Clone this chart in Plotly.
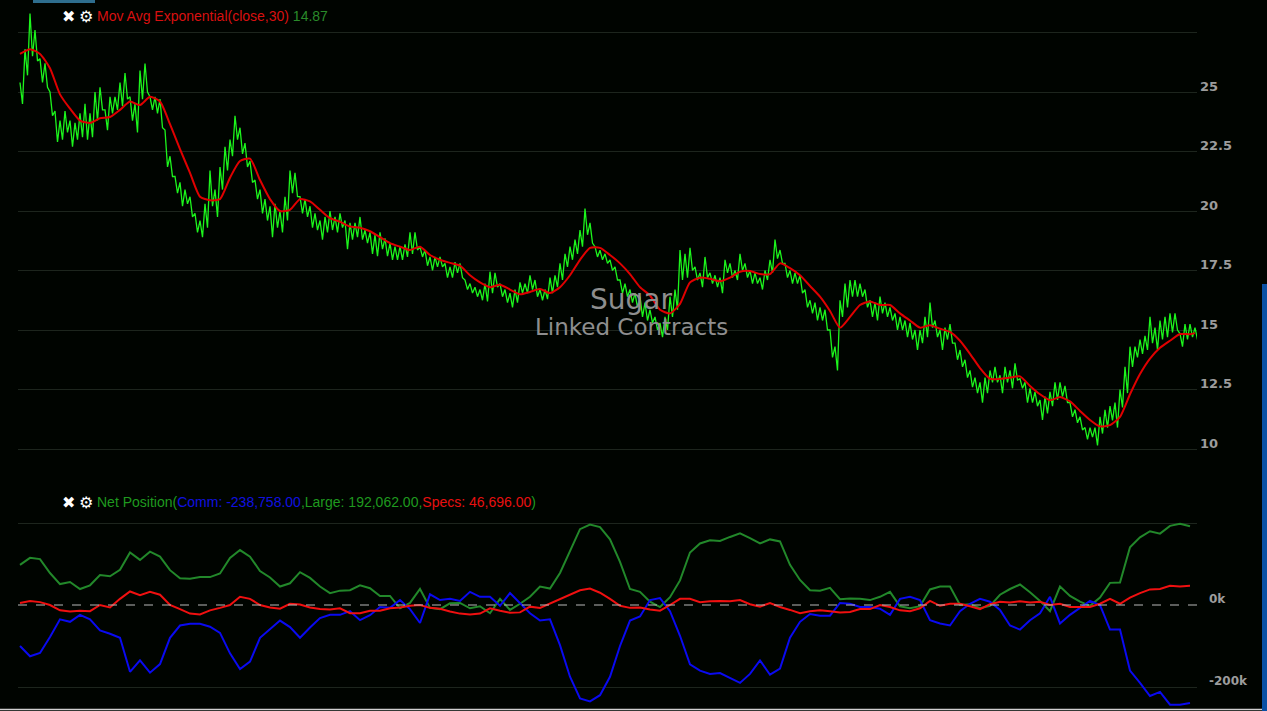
import plotly.graph_objects as go

# ---------------- data ----------------
# Sugar price: high / low envelope, one sample every ~5 px of chart width
price_high = [
    25.4, 26.8, 28.3, 27.6, 26.4, 26.2, 25.0, 24.2, 23.8, 24.2, 23.8, 23.7, 24.1, 24.5, 24.1, 25.0, 25.2, 24.25, 24.8, 24.8,
    25.4, 25.8, 24.8, 24.5, 25.9, 26.2, 24.8, 24.8, 24.7, 23.4, 22.3, 21.45, 21.2, 20.9, 20.6, 19.9, 19.6, 20.3, 21.7, 20.9,
    21.85, 22.7, 23.0, 24.0, 23.5, 22.85, 22.1, 21.3, 20.9, 20.5, 20.2, 20.3, 20.0, 20.6, 21.7, 21.6, 20.6, 20.5, 20.2, 19.9,
    19.6, 19.75, 20.0, 19.75, 19.9, 19.6, 19.5, 19.5, 19.75, 19.2, 19.1, 19.0, 19.1, 18.85, 18.65, 18.5, 18.5, 18.6, 19.1, 19.1,
    18.5, 18.36, 18.07, 18.07, 18.07, 17.8, 17.65, 17.85, 17.8, 17.1, 16.95, 16.8, 16.7, 16.95, 17.45, 17.4, 16.95, 16.7, 16.55, 16.7,
    17.0, 16.95, 17.3, 17.1, 16.7, 16.7, 17.2, 17.3, 17.8, 18.2, 18.5, 18.8, 19.2, 20.1, 19.5, 18.5, 18.35, 18.2, 17.95, 17.65,
    17.1, 16.95, 16.7, 16.55, 16.4, 16.15, 15.85, 15.55, 15.3, 15.55, 16.4, 16.7, 18.36, 18.2, 18.45, 17.65, 17.4, 18.07, 17.4, 17.3,
    17.2, 17.95, 17.8, 17.5, 18.2, 17.8, 17.5, 17.4, 17.2, 17.5, 17.95, 18.8, 18.36, 17.8, 17.5, 17.4, 17.3, 16.7, 16.25, 16.15,
    15.95, 15.85, 15.0, 14.3, 16.25, 16.95, 17.1, 17.1, 16.95, 16.7, 16.25, 16.15, 16.4, 16.15, 15.95, 15.7, 15.55, 15.4, 15.3, 15.0,
    15.0, 15.55, 16.15, 15.4, 15.0, 15.1, 15.25, 14.45, 14.16, 13.75, 13.3, 13.0, 12.8, 13.0, 13.3, 13.45, 13.1, 13.45, 13.3, 13.6,
    12.95, 12.8, 12.55, 12.4, 12.06, 12.2, 12.4, 12.8, 12.8, 12.65, 11.95, 11.65, 11.35, 10.9, 10.9, 10.9, 11.35, 11.65, 11.8, 11.95,
    12.5, 13.45, 14.3, 14.3, 14.6, 14.75, 15.55, 15.1, 15.4, 15.55, 15.7, 15.7, 14.85, 15.25, 15.25, 15.1,
]
price_low = [
    24.5, 25.7, 26.5, 26.3, 25.4, 25.2, 24.0, 22.9, 23.0, 23.3, 22.7, 23.0, 23.1, 23.0, 23.1, 23.8, 24.25, 23.4, 24.1, 24.25,
    24.4, 24.7, 23.8, 23.3, 24.7, 25.0, 24.25, 24.1, 23.5, 21.85, 21.45, 20.75, 20.2, 20.3, 19.75, 19.1, 18.9, 19.3, 20.2, 19.75,
    20.9, 21.7, 22.3, 23.0, 22.4, 21.85, 21.2, 20.5, 19.9, 19.6, 18.9, 19.3, 19.1, 19.6, 20.75, 20.6, 19.9, 19.75, 19.3, 19.2,
    18.8, 19.1, 19.2, 19.1, 19.3, 18.4, 18.8, 18.9, 18.8, 18.65, 18.2, 18.1, 18.4, 18.1, 17.95, 17.95, 17.95, 18.07, 18.2, 18.36,
    18.07, 17.7, 17.5, 17.65, 17.65, 17.2, 17.2, 17.4, 17.2, 16.7, 16.55, 16.4, 16.25, 16.2, 16.55, 16.8, 16.4, 16.15, 15.95, 16.15,
    16.55, 16.55, 16.7, 16.4, 16.25, 16.3, 16.55, 16.8, 17.1, 17.65, 17.95, 18.2, 18.5, 19.0, 18.65, 18.07, 17.95, 17.8, 17.5, 17.1,
    16.55, 16.4, 16.15, 15.95, 15.55, 15.4, 15.3, 15.0, 14.7, 15.0, 15.55, 15.85, 17.1, 17.2, 17.5, 17.1, 16.8, 17.2, 16.95, 16.8,
    16.55, 17.4, 17.2, 17.1, 17.5, 17.2, 16.95, 16.95, 16.7, 17.1, 17.4, 18.0, 17.8, 17.2, 16.95, 16.95, 16.55, 15.95, 15.7, 15.4,
    15.4, 15.0, 13.85, 13.3, 15.55, 15.95, 16.4, 16.4, 16.4, 15.95, 15.55, 15.4, 15.7, 15.55, 15.4, 15.0, 15.0, 14.7, 14.6, 14.16,
    14.45, 14.7, 15.1, 14.7, 14.16, 14.6, 14.45, 13.75, 13.45, 13.0, 12.6, 12.35, 11.95, 12.35, 12.8, 12.8, 12.35, 12.8, 12.55, 12.9,
    12.55, 11.95, 11.95, 11.8, 11.22, 11.5, 11.8, 12.06, 12.2, 11.95, 11.35, 11.1, 10.8, 10.4, 10.5, 10.15, 10.65, 10.9, 11.2, 10.9,
    11.75, 12.35, 13.45, 13.85, 14.0, 14.16, 14.45, 14.16, 14.6, 14.7, 14.9, 15.0, 14.3, 14.6, 14.7, 14.6,
]
# Exponential moving average (30), one value every ~10 px, plus the last bar
ema30 = [
    26.6, 26.8, 26.6, 26.0, 24.9, 24.3, 23.8, 23.7, 23.9, 23.95,
    24.25, 24.6, 24.45, 24.8, 24.6, 23.65, 22.6, 21.6, 20.6, 20.45,
    20.5, 21.4, 22.1, 22.2, 21.3, 20.5, 20.0, 20.05, 20.5, 20.4,
    20.05, 19.7, 19.55, 19.35, 19.3, 19.15, 18.9, 18.65, 18.5, 18.36,
    18.5, 18.15, 17.95, 17.82, 17.7, 17.3, 17.0, 16.8, 16.9, 16.7,
    16.5, 16.6, 16.72, 16.55, 16.8, 17.3, 17.95, 18.45, 18.45, 18.15,
    17.8, 17.35, 16.8, 16.45, 15.85, 15.7, 16.1, 17.0, 17.2, 17.15,
    17.05, 17.2, 17.45, 17.48, 17.35, 17.35, 17.8, 17.6, 17.3, 16.85,
    16.4, 15.8, 15.1, 15.55, 16.05, 16.2, 16.05, 16.05, 15.7, 15.4,
    15.1, 15.2, 15.05, 14.92, 14.55, 14.0, 13.4, 12.95, 12.95, 13.0,
    13.05, 12.65, 12.3, 12.05, 12.18, 12.0, 11.6, 11.22, 10.95, 11.0,
    11.35, 12.3, 13.15, 13.8, 14.25, 14.55, 14.83, 14.82,
    14.87,
]
# COT net positions, thousands of contracts, one value every ~10 px
large = [
    98, 115, 112, 78, 51, 56, 39, 48, 73, 70,
    86, 128, 110, 130, 118, 85, 65, 64, 68, 68,
    77, 115, 134, 118, 83, 67, 45, 53, 80, 66,
    45, 29, 35, 36, 48, 41, 22, 22, -8, 5,
    39, -7, -10, 4, 5, -8, -3, -20, 15, -12,
    3, 20, 45, 40, 78, 130, 185, 196, 190, 160,
    105, 39, 32, 8, -5, 19, 60, 128, 150, 158,
    156, 166, 175, 163, 150, 160, 155, 98, 61, 36,
    35, 42, 14, 16, 15, 12, 20, 32, -3, -8,
    -3, 38, 45, 45, 0, 2, -8, -2, 25, 39,
    50, 31, 10, -15, 45, 22, 8, -2, 18, 54,
    55, 141, 165, 180, 174, 193, 198, 192.062,
]
specs = [
    5, 10, 7, 0, -13, -16, -14, -15, 0, -6,
    15, 33, 24, 32, 25, 0, -10, -21, -23, -13,
    -7, 0, 20, 15, 0, -6, -9, 3, 1, -6,
    -10, -11, -8, -20, -20, -14, -14, -8, -6, -2,
    0, -7, -9, -16, -21, -23, -21, -8, -14, -19,
    -18, -4, -7, 4, 16, 26, 36, 40, 30, 15,
    -2, -7, -6, -11, -14, 0, 15, 15, 7, 9,
    10, 9, 12, 2, -4, 5, -5, -12, -20, -15,
    -13, -15, -18, -17, -10, -10, 0, -5, -13, -15,
    -8, 10, -2, 3, 3, -3, -10, 2, 8, 6,
    9, 6, 8, 0, 3, -5, -5, -5, 3, 15,
    3, 18, 29, 38, 39, 47, 45, 46.696,
]
comm = [
    -100, -125, -117, -78, -35, -41, -24, -35, -62, -70,
    -80, -163, -135, -165, -144, -80, -50, -46, -46, -53,
    -68, -118, -156, -138, -80, -60, -38, -54, -80, -55,
    -32, -24, -24, -15, -37, -25, -5, -7, 12, -10,
    -44, 26, 12, 15, 10, 32, 20, 20, -2, 29,
    5, -20, -38, -35, -98, -175, -228, -235, -220, -175,
    -100, -38, -28, 12, 17, -15, -75, -145, -160, -168,
    -166, -178, -190, -168, -135, -170, -155, -80, -41, -22,
    -26, -26, 5, 3, -5, -5, -9, -24, 15, 20,
    12, -37, -45, -50, -15, 3, 15, 8, -12, -50,
    -60, -37, -20, 20, -45, -24, -7, 10, 0, -60,
    -60, -160, -190, -222, -212, -243, -243, -238.758,
]
price_ticks = [10, 12.5, 15, 17.5, 20, 22.5, 25, 27.5]
price_tick_labels = ["10", "12.5", "15", "17.5", "20", "22.5", "25", ""]
cot_ticks = [-200, 200]
cot_tick_labels = ["-200k", ""]

# ---------------- styling ----------------
BG = "#000400"
GRID = "#1d251d"
W, H = 1267, 711
L, R = 18, 1197  # plot area in pixels


def px(xp):
    return (xp - L) / (R - L)


def py(yp):
    return (H - yp) / H


assert len(price_high) == len(price_low)
n = len(price_high)

# zig-zag between high and low of each sample, looks like dense daily bars
bar_x, bar_y = [], []
for i, (h, lo) in enumerate(zip(price_high, price_low)):
    bar_x += [i, i + 0.5]
    bar_y += [h, lo]

ema_x = [2 * k for k in range(len(ema30) - 1)] + [n - 1]
cot_x = [2 * k for k in range(len(large))]

fig = go.Figure()
fig.add_trace(go.Scatter(x=bar_x, y=bar_y, mode="lines", xaxis="x", yaxis="y",
                         line=dict(color="#1cf51c", width=1.3), hoverinfo="skip"))
fig.add_trace(go.Scatter(x=ema_x, y=ema30, mode="lines", xaxis="x", yaxis="y",
                         line=dict(color="#e00000", width=2, shape="spline", smoothing=0.6),
                         hoverinfo="skip"))
fig.add_trace(go.Scatter(x=cot_x, y=large, mode="lines", xaxis="x2", yaxis="y2",
                         line=dict(color="#22882a", width=2), hoverinfo="skip"))
fig.add_trace(go.Scatter(x=cot_x, y=comm, mode="lines", xaxis="x2", yaxis="y2",
                         line=dict(color="#0a0af0", width=2), hoverinfo="skip"))
fig.add_trace(go.Scatter(x=cot_x, y=specs, mode="lines", xaxis="x2", yaxis="y2",
                         line=dict(color="#f01010", width=2), hoverinfo="skip"))

xr = [(L - 20) / 5, (R - 20) / 5]
top_lo = 10 + (449 - 462) * 2.5 / 59.5
top_hi = 10 + (449 - 0) * 2.5 / 59.5
bot_hi = (605 - 512) * 200 / 82
bot_lo = (605 - 711) * 200 / 82

fig.update_layout(
    width=W, height=H,
    margin=dict(l=L, r=W - R, t=0, b=0),
    paper_bgcolor=BG, plot_bgcolor=BG,
    showlegend=False, hovermode=False,
    xaxis=dict(domain=[0, 1], range=xr, visible=False, anchor="y", fixedrange=True),
    yaxis=dict(domain=[py(462), 1], range=[top_lo, top_hi], tickvals=price_ticks,
               showticklabels=False, ticks="", gridcolor=GRID, gridwidth=1,
               zeroline=False, showline=False, fixedrange=True),
    xaxis2=dict(domain=[0, 1], range=xr, visible=False, anchor="y2", fixedrange=True),
    yaxis2=dict(domain=[0, py(512)], range=[bot_lo, bot_hi], tickvals=cot_ticks,
                showticklabels=False, ticks="", gridcolor=GRID, gridwidth=1,
                zeroline=False, showline=False, fixedrange=True),
)

label_font = dict(family="DejaVu Sans", size=13, color="#9c9c9c")
ann = []
for v, t in zip(price_ticks, price_tick_labels):
    if t:
        ann.append(dict(xref="paper", yref="y", x=1, y=v, xanchor="left", yanchor="middle",
                        xshift=1, yshift=6, text="<b>%s</b>" % t, showarrow=False, font=label_font))
for v, t in zip(cot_ticks, cot_tick_labels):
    if t:
        ann.append(dict(xref="paper", yref="y2", x=1, y=v, xanchor="left", yanchor="middle",
                        xshift=10, yshift=6, text="<b>%s</b>" % t, showarrow=False,
                        font=dict(family="DejaVu Sans", size=12, color="#9c9c9c")))
ann.append(dict(xref="paper", yref="y2", x=1, y=0, xanchor="left", yanchor="middle",
                xshift=10, yshift=6, text="<b>0k</b>", showarrow=False,
                font=dict(family="DejaVu Sans", size=12, color="#9c9c9c")))

leg_font = dict(family="Liberation Sans, Arial, sans-serif", size=14, color="#1f9a1f")
for ypix in (16, 502):
    ann.append(dict(xref="paper", yref="paper", x=px(60), y=py(ypix), xanchor="left", yanchor="middle",
                    text="<b>✖</b>", showarrow=False,
                    font=dict(family="DejaVu Sans", size=16, color="#ffffff")))
    ann.append(dict(xref="paper", yref="paper", x=px(77), y=py(ypix), xanchor="left", yanchor="middle",
                    text="⚙", showarrow=False,
                    font=dict(family="DejaVu Sans", size=16, color="#ffffff")))

ann.append(dict(xref="paper", yref="paper", x=px(95), y=py(16), xanchor="left", yanchor="middle",
                showarrow=False, font=leg_font,
                text=("<span style='color:#d81010'>Mov Avg Exponential(close,30)</span> "
                      "<span style='color:#2a8a2a'>%.2f</span>" % ema30[-1])))
ann.append(dict(xref="paper", yref="paper", x=px(95), y=py(502), xanchor="left", yanchor="middle",
                showarrow=False, font=leg_font,
                text=("Net Position(<span style='color:#1010e0'>Comm: {:,.2f}</span>,"
                      "Large: {:,.2f},<span style='color:#e81010'>Specs: {:,.2f}</span>)").format(
                          comm[-1] * 1000, large[-1] * 1000, specs[-1] * 1000)))

ann.append(dict(xref="paper", yref="paper", x=px(631), y=py(300), xanchor="center", yanchor="middle",
                text="Sugar", showarrow=False,
                font=dict(family="DejaVu Sans", size=28, color="#8e8e8e")))
ann.append(dict(xref="paper", yref="paper", x=px(631), y=py(327), xanchor="center", yanchor="middle",
                text="Linked Contracts", showarrow=False,
                font=dict(family="DejaVu Sans", size=23, color="#8e8e8e")))
fig.update_layout(annotations=ann)

shapes = [
    # dashed zero line of the COT pane
    dict(type="line", xref="paper", yref="y2", x0=0, x1=1, y0=0, y1=0,
         line=dict(color="#b8b8b8", width=1, dash="dash")),
    # small tab at top-left
    dict(type="rect", xref="paper", yref="paper", x0=px(33), x1=px(95), y0=py(3), y1=py(0),
         fillcolor="#2e6e8e", line=dict(width=0)),
    # blue scroll bar at the right
    dict(type="rect", xref="paper", yref="paper", x0=px(1262), x1=px(1267), y0=py(711), y1=py(284),
         fillcolor="#0a50a4", line=dict(width=0)),
    # light border at bottom
    dict(type="line", xref="paper", yref="paper", x0=px(0), x1=px(1262), y0=py(709.5), y1=py(709.5),
         line=dict(color="#cfcfcf", width=1.5)),
]
fig.update_layout(shapes=shapes)

fig.write_html("out.html", config={"displayModeBar": False, "staticPlot": True},
               post_script="document.body.style.margin='0';document.body.style.overflow='hidden';"
                           "document.body.style.background='#000400';")
